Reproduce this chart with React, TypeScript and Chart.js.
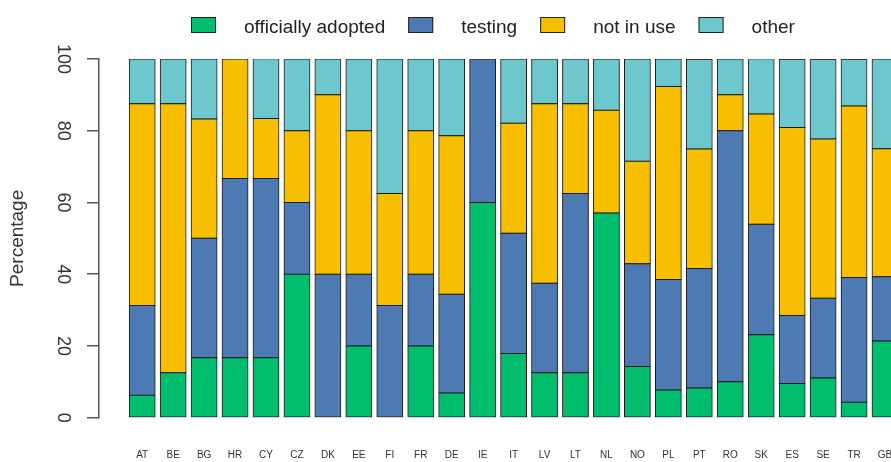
import React, { useEffect, useRef } from 'react';
import { Chart, registerables } from 'chart.js';

Chart.register(...registerables);

const countries = ['AT', 'BE', 'BG', 'HR', 'CY', 'CZ', 'DK', 'EE', 'FI', 'FR', 'DE', 'IE', 'IT', 'LV', 'LT', 'NL', 'NO', 'PL', 'PT', 'RO', 'SK', 'ES', 'SE', 'TR', 'GB'];
const officiallyAdopted = [6.25, 12.5, 16.7, 16.7, 16.7, 40, 0, 20, 0, 20, 6.9, 60, 17.9, 12.5, 12.5, 57.1, 14.3, 7.7, 8.3, 10, 23.1, 9.5, 11.1, 4.3, 21.4];
const testing = [25, 0, 33.3, 50, 50, 20, 40, 20, 31.25, 20, 27.5, 40, 33.5, 25, 50, 0, 28.6, 30.8, 33.3, 70, 30.8, 19, 22.2, 34.8, 17.9];
const notInUse = [56.25, 75, 33.3, 33.3, 16.7, 20, 50, 40, 31.25, 40, 44.2, 0, 30.7, 50, 25, 28.6, 28.6, 53.8, 33.3, 10, 30.8, 52.4, 44.4, 47.8, 35.7];
const other = [12.5, 12.5, 16.7, 0, 16.7, 20, 10, 20, 37.5, 20, 21.4, 0, 17.9, 12.5, 12.5, 14.3, 28.5, 7.7, 25, 10, 15.4, 19, 22.2, 13, 25];
const seriesLabels = ['officially adopted', 'testing', 'not in use', 'other'];
const seriesColors = ['#00BE6E', '#4E7AB4', '#F8BE00', '#6CC8CC'];
const yTicks = [0, 20, 40, 60, 80, 100];

const FONT = '"Liberation Sans", Arial, sans-serif';

const rLegend = {
  id: 'rLegend',
  afterDraw(chart: any) {
    const ctx = chart.ctx;
    ctx.save();
    ctx.font = `19px ${FONT}`;
    ctx.textBaseline = 'alphabetic';
    ctx.textAlign = 'left';
    let x = 191;
    chart.data.datasets.forEach((ds: any) => {
      ctx.fillStyle = ds.backgroundColor;
      ctx.fillRect(x, 17, 25, 16);
      ctx.strokeStyle = '#222';
      ctx.lineWidth = 1;
      ctx.strokeRect(x + 0.5, 17.5, 24, 15);
      const tx = x + 53;
      ctx.fillStyle = '#222';
      ctx.fillText(ds.label, tx, 32.5);
      x = tx + ctx.measureText(ds.label).width + 23;
    });
    ctx.restore();
  },
};

export default function App() {
  const ref = useRef<HTMLCanvasElement>(null);

  useEffect(() => {
    if (!ref.current) return;
    const series = [officiallyAdopted, testing, notInUse, other];
    const datasets = series.map((vals, k) => ({
      label: seriesLabels[k],
      data: vals.map((v, i) => ({ x: i, y: v })),
      backgroundColor: seriesColors[k],
      borderColor: '#1a1a1a',
      borderWidth: 1,
      borderSkipped: false as any,
      inflateAmount: 0.5,
      categoryPercentage: 1,
      barPercentage: 1 / 1.2,
    }));
    const chart = new Chart(ref.current, {
      type: 'bar',
      data: { datasets },
      plugins: [rLegend],
      options: {
        responsive: false,
        maintainAspectRatio: false,
        animation: false,
        devicePixelRatio: 1,
        events: [],
        layout: { padding: { top: 59, left: 0, right: 0, bottom: 0 } },
        plugins: { legend: { display: false }, tooltip: { enabled: false } },
        scales: {
          x: {
            type: 'linear',
            stacked: true,
            offset: false,
            min: -1.396,
            max: 24.194,
            bounds: 'data',
            grid: { display: false, drawTicks: false, offset: false },
            border: { display: false },
            afterBuildTicks: (s: any) => {
              s.ticks = countries.map((_, i) => ({ value: i }));
            },
            ticks: {
              autoSkip: false,
              maxRotation: 0,
              padding: 32,
              color: '#333',
              font: { family: FONT, size: 10 },
              callback: (v: any) => countries[v] ?? '',
            },
            afterFit: (s: any) => {
              s.height = 44.3;
              s.paddingLeft = 0;
              s.paddingRight = 0;
            },
          },
          y: {
            type: 'linear',
            stacked: true,
            min: 0,
            max: 100,
            afterBuildTicks: (s: any) => {
              s.ticks = yTicks.map((v) => ({ value: v }));
            },
            grid: { drawOnChartArea: false, drawTicks: true, tickLength: 12, color: '#555', lineWidth: 1.5 },
            border: { display: true, color: '#555', width: 1.5 },
            ticks: {
              autoSkip: false,
              minRotation: -90,
              maxRotation: -90,
              crossAlign: 'center',
              padding: 8.6,
              color: '#333',
              font: { family: FONT, size: 18 },
            },
            title: {
              display: true,
              text: 'Percentage',
              color: '#333',
              font: { family: FONT, size: 19 },
              padding: { top: 6, bottom: 0 },
            },
            afterFit: (s: any) => {
              s.width = 99;
              s.paddingTop = 0;
              s.paddingBottom = 0;
            },
          },
        },
      } as any,
    });
    return () => chart.destroy();
  }, []);

  return (
    <div style={{ position: 'fixed', left: 0, top: 0, width: 891, height: 462, background: '#fff', overflow: 'hidden' }}>
      <canvas ref={ref} width={891} height={462} style={{ display: 'block', width: 891, height: 462 }} />
    </div>
  );
}
